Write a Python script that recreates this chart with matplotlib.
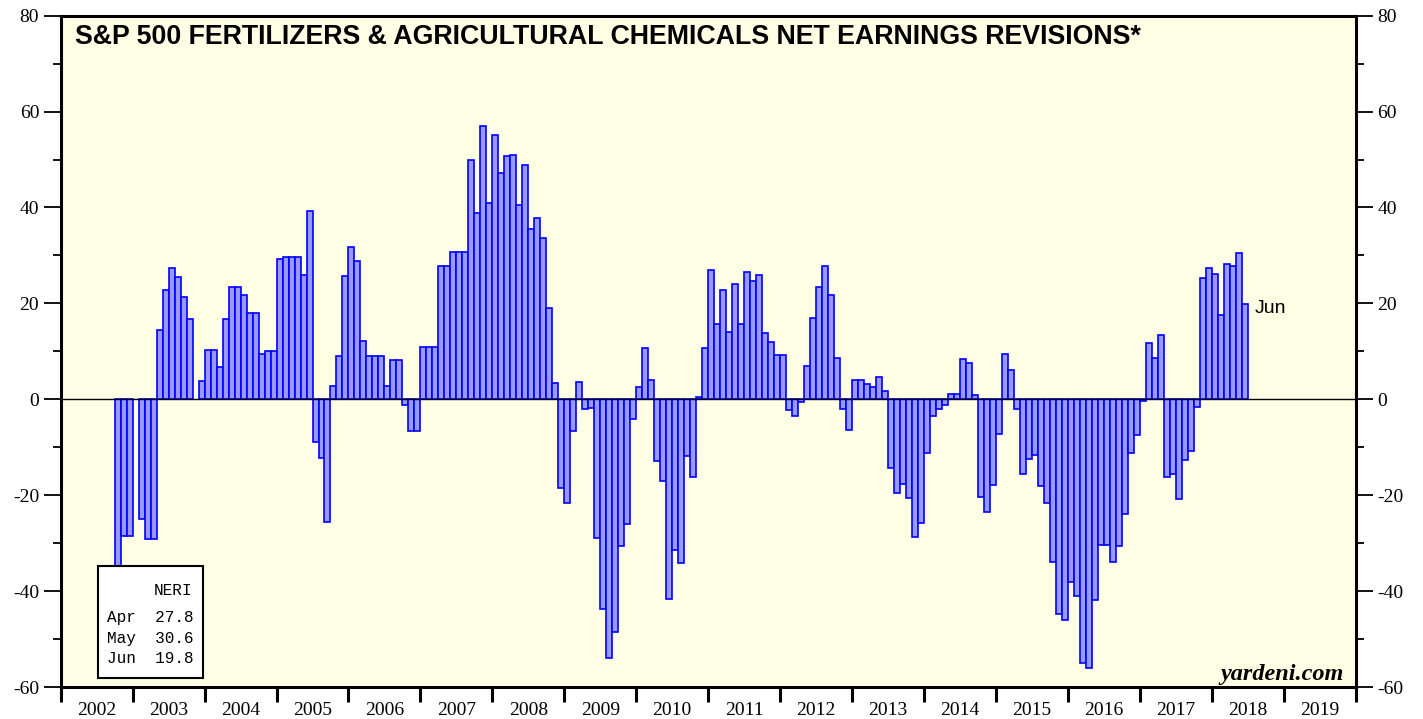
import numpy as np
import pandas as pd
import matplotlib
matplotlib.use("Agg")
import matplotlib.pyplot as plt
from matplotlib.patches import Rectangle
from matplotlib.ticker import MultipleLocator, FixedLocator

plt.rcParams["axes.unicode_minus"] = False

# monthly NERI, Oct 2002 .. Jun 2018 (nan = no reading)
start_month = "2002-10"
neri = [
    -37.0, -28.6, -28.6,                                                       # 2002 Oct-Dec
    np.nan, -25.0, -29.2, -29.2, 14.4, 22.7, 27.4, 25.6, 21.4, 16.7, np.nan, 3.8,  # 2003
    10.3, 10.3, 6.7, 16.7, 23.4, 23.4, 21.8, 18.0, 18.0, 9.5, 10.0, 10.0,      # 2004
    29.3, 29.7, 29.7, 29.7, 25.9, 39.3, -9.0, -12.2, -25.6, 2.8, 9.1, 25.7,    # 2005
    31.8, 28.8, 12.1, 9.0, 9.0, 9.0, 2.8, 8.3, 8.3, -1.1, -6.7, -6.7,          # 2006
    11.0, 11.0, 11.0, 27.8, 27.8, 30.8, 30.8, 30.8, 50.0, 38.9, 57.1, 40.9,    # 2007
    55.2, 47.2, 50.7, 50.9, 40.6, 48.8, 35.6, 37.8, 33.7, 19.0, 3.5, -18.4,    # 2008
    -21.7, -6.6, 3.7, -2.1, -1.9, -28.9, -43.7, -54.0, -48.5, -30.6, -26.1, -4.2,  # 2009
    2.6, 10.6, 4.1, -12.9, -17.1, -41.7, -31.5, -34.2, -11.8, -16.2, 0.5, 10.8,    # 2010
    26.9, 15.8, 22.8, 14.0, 24.1, 15.6, 26.5, 24.6, 26.0, 13.8, 12.0, 9.2,     # 2011
    9.3, -2.2, -3.4, -0.6, 7.0, 16.9, 23.5, 27.8, 21.7, 8.7, -2.1, -6.5,       # 2012
    4.0, 4.1, 3.2, 2.6, 4.7, 1.7, -14.4, -19.6, -17.6, -20.6, -28.8, -25.8,    # 2013
    -11.3, -3.5, -2.1, -1.2, 1.2, 1.2, 8.5, 7.6, 1.0, -20.3, -23.5, -17.8,     # 2014
    -7.3, 9.5, 6.1, -2.1, -15.6, -12.5, -11.7, -18.0, -21.7, -34.0, -44.8, -46.0,  # 2015
    -38.1, -41.1, -54.9, -56.1, -41.8, -30.4, -30.4, -34.0, -30.6, -24.0, -11.3, -7.4,  # 2016
    -0.4, 11.8, 8.7, 13.5, -16.3, -15.5, -20.8, -12.7, -10.7, -1.6, 25.4, 27.3,    # 2017
    26.2, 17.6, 28.2, 27.8, 30.6, 19.8,                                        # 2018 Jan-Jun
]
years = list(range(2002, 2020))
box_months = ["Apr", "May", "Jun"]
box_values = [27.8, 30.6, 19.8]
title = "S&P 500 FERTILIZERS & AGRICULTURAL CHEMICALS NET EARNINGS REVISIONS*"

W, H = 1423, 719
dates = pd.period_range(start_month, periods=len(neri), freq="M")
x = np.array([(d.year - years[0]) * 12 + d.month - 1 for d in dates])
y = np.array(neri)
ok = ~np.isnan(y)

fig = plt.figure(figsize=(W / 100, H / 100), dpi=100)
ax = fig.add_axes([60.7 / W, 1 - 687 / H, 1295 / W, (687 - 15.7) / H])
ax.set_facecolor("#FFFFE6")

ax.bar(x[ok], y[ok], width=1, align="edge", color="#9999FF",
       edgecolor="#0000FF", linewidth=1.2, zorder=2)
ax.axhline(0, color="black", linewidth=1.0, zorder=3)

ax.set_xlim(0, 12 * (len(years)))
ax.set_ylim(-60, 80)

for s in ax.spines.values():
    s.set_linewidth(2.2)

serif = "Liberation Serif"
ax.yaxis.set_major_locator(MultipleLocator(20))
ax.yaxis.set_minor_locator(MultipleLocator(10))
ax.tick_params(axis="y", which="major", direction="out", length=12, width=1.3,
               pad=3.5, labelsize=14, left=True, right=True,
               labelleft=True, labelright=True)
ax.tick_params(axis="y", which="minor", direction="out", length=6, width=1.3,
               left=True, right=True)
for lab in ax.get_yticklabels():
    lab.set_fontfamily(serif)

ax.xaxis.set_major_locator(FixedLocator([12 * i for i in range(len(years) + 1)]))
ax.xaxis.set_minor_locator(FixedLocator([12 * i + 6 for i in range(len(years))]))
ax.set_xticklabels([], minor=False)
ax.set_xticklabels([str(yr) for yr in years], minor=True, fontfamily=serif, fontsize=14)
ax.tick_params(axis="x", which="major", direction="out", length=11, width=2.2)
ax.tick_params(axis="x", which="minor", length=0, pad=10.5)

ax.text(75 / W, 1 - 24 / H, title, transform=fig.transFigure, ha="left", va="top",
        fontsize=19.3, fontweight="bold", family="Liberation Sans")

ax.text(x[-1] + 2.2, y[-1] - 0.8, "Jun", ha="left", va="center", fontsize=14,
        family="Liberation Sans", zorder=4)

ax.text(1344 / W, 1 - 680 / H, "yardeni.com", transform=fig.transFigure,
        ha="right", va="baseline", fontsize=17.5, fontweight="bold",
        fontstyle="italic", family=serif)

# small value box, lower left
ax.add_patch(Rectangle((97.7 / W, 1 - 677.7 / H), 105.3 / W, 112 / H,
                       transform=fig.transFigure, facecolor="white",
                       edgecolor="black", linewidth=1.5, zorder=5, clip_on=False))
mono = "Liberation Mono"
ax.text(192.7 / W, 1 - 595 / H, "NERI", transform=fig.transFigure, ha="right",
        va="baseline", fontsize=11.5, family=mono, zorder=6)
for i, (m, v) in enumerate(zip(box_months, box_values)):
    ax.text(106.7 / W, 1 - (622 + 20.7 * i) / H, f"{m}  {v:4.1f}",
            transform=fig.transFigure, ha="left", va="baseline",
            fontsize=11.5, family=mono, zorder=6)

fig.savefig("out.png", dpi=100)
